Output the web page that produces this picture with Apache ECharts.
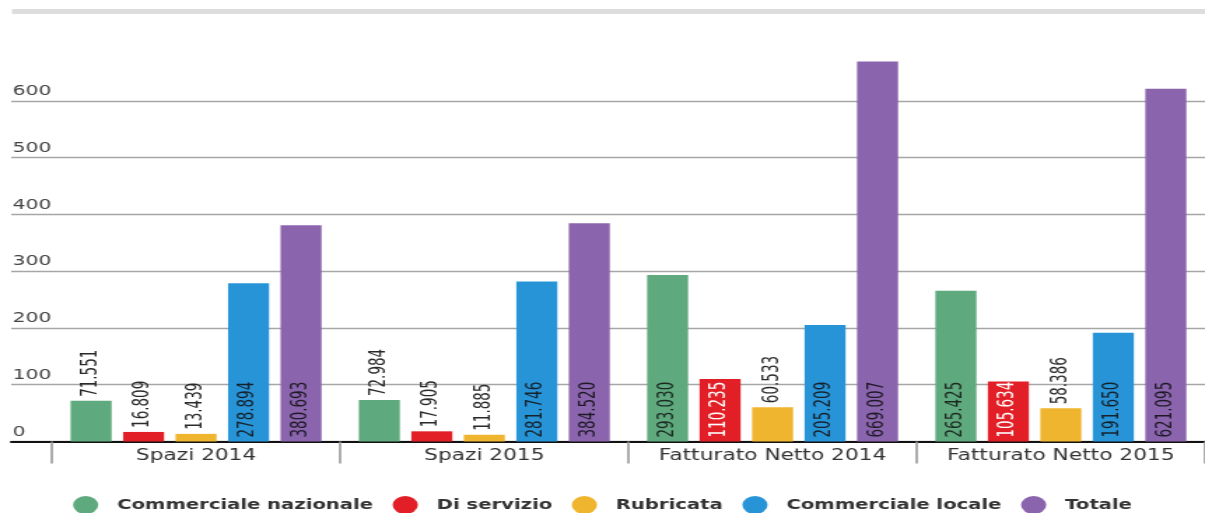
<!DOCTYPE html>
<html>
<head>
<meta charset="utf-8">
<script src="https://cdn.jsdelivr.net/npm/echarts@6/dist/echarts.min.js"></script>
<style>
  html, body { margin: 0; padding: 0; background: #fff; overflow: hidden; }
  #wrap { width: 1205px; height: 513px; overflow: hidden; }
  /* the chart is laid out on a narrower canvas and widened to the page */
  #chart { width: 861px; height: 513px; transform: scaleX(1.3995); transform-origin: 0 0; }
</style>
</head>
<body>
<div id="wrap"><div id="chart"></div></div>
<script>
const categories = ['Spazi 2014', 'Spazi 2015', 'Fatturato Netto 2014', 'Fatturato Netto 2015'];
const seriesNames = ['Commerciale nazionale', 'Di servizio', 'Rubricata', 'Commerciale locale', 'Totale'];
const commercialeNazionale = [71.551, 72.984, 293.030, 265.425];
const diServizio = [16.809, 17.905, 110.235, 105.634];
const rubricata = [13.439, 11.885, 60.533, 58.386];
const commercialeLocale = [278.894, 281.746, 205.209, 191.650];
const totale = [380.693, 384.520, 669.007, 621.095];
const yTicks = [0, 100, 200, 300, 400, 500, 600];

const seriesValues = [commercialeNazionale, diServizio, rubricata, commercialeLocale, totale];
const colors = ['#5fa97e', '#e21f26', '#f0b52e', '#2894d8', '#8a64ad'];
const insideText = ['#1c2a22', '#ffffff', '#222222', '#15222c', '#1f1a26'];

const labelFont = '"Liberation Sans Narrow", "DejaVu Sans Condensed", "Roboto", sans-serif';
const mainFont = '"DejaVu Sans", "Verdana", sans-serif';

const chart = echarts.init(document.getElementById('chart'), null, { renderer: 'canvas' });

const series = seriesValues.map((vals, si) => ({
  name: seriesNames[si],
  type: 'bar',
  xAxisIndex: 1,
  yAxisIndex: 1,
  barWidth: 29.3,
  barGap: '28%',
  itemStyle: { color: colors[si] },
  data: vals.map(v => {
    const inside = v >= 100;
    return {
      value: v,
      label: {
        show: true,
        position: inside ? 'insideBottom' : 'top',
        distance: 4,
        rotate: 90,
        align: 'left',
        verticalAlign: 'middle',
        color: inside ? insideText[si] : '#2a2a2a',
        fontFamily: labelFont,
        fontSize: 15,
        formatter: p => p.value.toFixed(3)
      }
    };
  })
}));

chart.setOption({
  animation: false,
  backgroundColor: '#ffffff',
  graphic: [{
    type: 'rect',
    shape: { x: 8.6, y: 9, width: 853, height: 5 },
    style: { fill: '#dddddd' },
    silent: true
  }],
  legend: {
    left: 'center',
    top: 491,
    icon: 'circle',
    itemWidth: 19,
    itemHeight: 18,
    itemGap: 14,
    data: seriesNames,
    textStyle: {
      fontFamily: mainFont,
      fontWeight: 'bold',
      fontSize: 14,
      color: '#333333',
      padding: [0, 0, 0, 8]
    }
  },
  grid: [
    { left: 8, right: 0, top: 44, bottom: 71.5 },
    { left: 37.1, right: -2, top: 44, bottom: 71.5 }
  ],
  xAxis: [
    {
      type: 'category',
      gridIndex: 0,
      data: [''],
      axisLine: { show: true, lineStyle: { color: '#111111', width: 2 } },
      axisTick: { show: false },
      axisLabel: { show: false },
      splitLine: { show: false }
    },
    {
      type: 'category',
      gridIndex: 1,
      data: categories,
      axisLine: { show: false },
      axisTick: { show: true, length: 22, lineStyle: { color: '#999999', width: 1.6 } },
      axisLabel: {
        margin: 6,
        fontFamily: mainFont,
        fontSize: 15.5,
        color: '#333333',
        interval: 0
      },
      splitLine: { show: false }
    }
  ],
  yAxis: [
    {
      type: 'value',
      gridIndex: 0,
      min: 0,
      max: 700,
      interval: 100,
      axisLine: { show: false },
      axisTick: { show: false },
      axisLabel: {
        inside: true,
        margin: 1,
        verticalAlign: 'bottom',
        padding: [0, 0, 2, 0],
        fontFamily: mainFont,
        fontSize: 14.5,
        color: '#444444',
        showMaxLabel: false,
        formatter: v => (yTicks.indexOf(v) >= 0 ? String(v) : '')
      },
      splitLine: { show: true, showMaxLine: false, lineStyle: { color: '#a6a6a6', width: 1.4 } }
    },
    {
      type: 'value',
      gridIndex: 1,
      min: 0,
      max: 700,
      interval: 100,
      show: false,
      splitLine: { show: false }
    }
  ],
  series: series
});
</script>
</body>
</html>
